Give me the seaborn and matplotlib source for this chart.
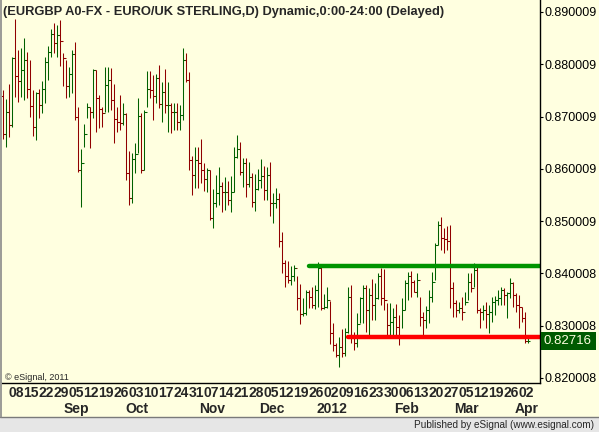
import matplotlib
matplotlib.use("Agg")
import matplotlib.pyplot as plt
from matplotlib.patches import Rectangle
from matplotlib.lines import Line2D
import numpy as np
import pandas as pd
import seaborn as sns

# Chart data (EURGBP daily bars)
title = "(EURGBP A0-FX - EURO/UK STERLING,D) Dynamic,0:00-24:00 (Delayed)"
first_day = "2011-08-02"
first_open = 0.8740

highs = [
    .8751, .8733, .8762, .8814, .8887, .8827, .8831, .8850, .8823, .8808,
    .8751, .8747, .8752, .8768, .8814, .8835, .8868, .8879, .8875, .8885,
    .8821, .8808, .8794, .8827, .8843, .8719, .8638, .8686, .8726, .8719,
    .8791, .8789, .8741, .8719, .8794, .8794, .8793, .8762, .8719, .8741,
    .8726, .8707, .8634, .8630, .8650, .8735, .8707, .8713, .8787, .8787,
    .8779, .8781, .8798, .8766, .8791, .8766, .8726, .8726, .8726, .8722,
    .8831, .8821, .8785, .8625, .8642, .8642, .8657, .8611, .8602, .8598,
    .8561, .8588, .8603, .8575, .8584, .8577, .8586, .8642, .8665, .8652,
    .8621, .8621, .8613, .8592, .8590, .8600, .8619, .8605, .8603, .8613,
    .8554, .8563, .8554, .8479, .8426, .8424, .8414, .8416, .8395, .8380,
    .8353, .8368, .8368, .8374, .8378, .8422, .8412, .8360, .8374, .8347,
    .8305, .8267, .8279, .8294, .8296, .8374, .8378, .8288, .8324, .8355,
    .8378, .8378, .8372, .8389, .8382, .8401, .8410, .8408, .8343, .8343,
    .8334, .8341, .8320, .8353, .8387, .8403, .8405, .8387, .8401, .8355,
    .8326, .8337, .8368, .8403, .8458, .8500, .8508, .8486, .8490, .8492,
    .8384, .8349, .8345, .8355, .8364, .8401, .8401, .8420, .8416, .8334,
    .8339, .8345, .8339, .8355, .8357, .8368, .8374, .8372, .8364, .8392,
    .8384, .8363, .8359, .8336, .8326, .8278,
]
lows = [
    .8657, .8642, .8661, .8680, .8737, .8728, .8737, .8732, .8735, .8699,
    .8663, .8656, .8698, .8707, .8726, .8770, .8814, .8821, .8814, .8796,
    .8758, .8735, .8737, .8745, .8694, .8594, .8527, .8642, .8698, .8640,
    .8698, .8671, .8678, .8680, .8709, .8709, .8713, .8650, .8671, .8675,
    .8684, .8579, .8530, .8534, .8592, .8630, .8592, .8598, .8719, .8735,
    .8694, .8726, .8717, .8690, .8707, .8671, .8669, .8675, .8675, .8675,
    .8694, .8766, .8598, .8550, .8563, .8563, .8573, .8558, .8556, .8502,
    .8486, .8527, .8530, .8517, .8521, .8530, .8517, .8556, .8621, .8588,
    .8565, .8546, .8565, .8527, .8519, .8560, .8563, .8540, .8540, .8509,
    .8496, .8525, .8450, .8401, .8374, .8382, .8378, .8386, .8330, .8303,
    .8318, .8320, .8334, .8334, .8332, .8336, .8330, .8332, .8334, .8265,
    .8252, .8241, .8221, .8241, .8243, .8286, .8267, .8254, .8260, .8305,
    .8305, .8288, .8279, .8311, .8311, .8351, .8339, .8330, .8282, .8282,
    .8276, .8278, .8263, .8296, .8330, .8349, .8355, .8364, .8355, .8299,
    .8278, .8296, .8305, .8345, .8387, .8455, .8445, .8439, .8445, .8334,
    .8316, .8316, .8324, .8311, .8339, .8349, .8364, .8374, .8324, .8296,
    .8311, .8296, .8286, .8307, .8320, .8339, .8339, .8339, .8314, .8353,
    .8336, .8326, .8296, .8307, .8267, .8267,
]
closes = [
    .8667, .8709, .8684, .8812, .8777, .8768, .8789, .8808, .8752, .8721,
    .8680, .8745, .8722, .8752, .8804, .8823, .8858, .8841, .8856, .8845,
    .8812, .8758, .8781, .8819, .8699, .8598, .8611, .8667, .8719, .8709,
    .8789, .8735, .8715, .8707, .8760, .8770, .8732, .8696, .8690, .8688,
    .8705, .8592, .8544, .8619, .8628, .8701, .8598, .8709, .8752, .8751,
    .8739, .8773, .8724, .8747, .8722, .8722, .8709, .8709, .8690, .8703,
    .8808, .8770, .8617, .8588, .8617, .8611, .8598, .8581, .8598, .8507,
    .8534, .8554, .8567, .8556, .8556, .8540, .8556, .8623, .8638, .8594,
    .8611, .8571, .8584, .8536, .8561, .8579, .8586, .8560, .8588, .8534,
    .8534, .8542, .8462, .8420, .8395, .8388, .8395, .8411, .8353, .8322,
    .8324, .8364, .8355, .8339, .8368, .8411, .8334, .8336, .8349, .8286,
    .8264, .8244, .8260, .8248, .8288, .8355, .8279, .8267, .8303, .8353,
    .8372, .8330, .8359, .8339, .8353, .8395, .8353, .8349, .8301, .8307,
    .8316, .8297, .8278, .8330, .8381, .8395, .8384, .8364, .8387, .8316,
    .8311, .8330, .8355, .8384, .8455, .8492, .8467, .8465, .8463, .8372,
    .8343, .8330, .8334, .8326, .8345, .8384, .8372, .8407, .8330, .8326,
    .8330, .8322, .8326, .8345, .8349, .8353, .8368, .8359, .8362, .8382,
    .8359, .8339, .8336, .8315, .8270, .82716,
]

week_labels = ["08", "15", "22", "29", "05", "12", "19", "26", "03", "10", "17",
               "24", "31", "07", "14", "21", "28", "05", "12", "19", "26", "02",
               "09", "16", "23", "30", "06", "13", "20", "27", "05", "12", "19",
               "26", "02"]
month_labels = ["Sep", "Oct", "Nov", "Dec", "2012", "Feb", "Mar", "Apr"]
month_dates = ["2011-09-05", "2011-10-03", "2011-11-07", "2011-12-05",
               "2012-01-02", "2012-02-06", "2012-03-05", "2012-04-02"]
price_ticks = [0.820008, 0.830008, 0.840008, 0.850009,
               0.860009, 0.870009, 0.880009, 0.890009]

resistance = 0.8414
resistance_from = "2011-12-22"
support = 0.8279
support_from = "2012-01-10"
last_price = "0.82716"

# build the frame
dates = pd.bdate_range(first_day, periods=len(closes))
df = pd.DataFrame({"date": dates, "high": highs, "low": lows, "close": closes})
df["open"] = [first_open] + closes[:-1]
df["x"] = np.arange(len(df))
df["color"] = np.where(df["close"] >= df["open"], "#006000", "#900000")

def pos(d):
    return int(np.searchsorted(dates, pd.Timestamp(d)))

sns.set_style("white")
plt.rcParams["font.family"] = ["Liberation Sans", "DejaVu Sans"]

W, H = 599, 432
bg = "#FFFFE0"
fig = plt.figure(figsize=(W / 100, H / 100), dpi=100)
fig.patch.set_facecolor(bg)
ax = fig.add_axes([2 / W, (H - 383) / H, 538 / W, 383 / H])
ax.set_facecolor(bg)
ax.set_xlim(-0.33, 179)
ax.set_ylim(0.81905, 0.8923)

# OHLC bars
lw = 0.75
ax.vlines(df["x"], df["low"], df["high"], colors=df["color"], linewidth=lw)
ax.hlines(df["open"], df["x"] - 0.65, df["x"], colors=df["color"], linewidth=lw)
ax.hlines(df["close"], df["x"], df["x"] + 0.65, colors=df["color"], linewidth=lw)

# support / resistance lines
xr = pos(resistance_from)
xs = pos(support_from)
sns.lineplot(x=[xr, 179], y=[resistance, resistance], color="#009400",
             linewidth=3.2, ax=ax, legend=False)
sns.lineplot(x=[xs, 179], y=[support, support], color="#FF0000",
             linewidth=3.2, ax=ax, legend=False)

# axes styling
for s in ["left", "top"]:
    ax.spines[s].set_visible(False)
for s in ["right", "bottom"]:
    ax.spines[s].set_color("black")
    ax.spines[s].set_linewidth(1.0)
ax.yaxis.tick_right()
ax.set_yticks(price_ticks)
ax.set_yticklabels([f"{v:.6f}" for v in price_ticks])
ax.tick_params(axis="y", length=2, pad=1.5, labelsize=9, colors="black")
ax.set_xticks([pos(d) for d in month_dates])
ax.set_xticklabels([])
ax.tick_params(axis="x", length=3, direction="out")
ax.set_xlabel("")
ax.set_ylabel("")

# date labels under the axis
xt = ax.get_xaxis_transform()
mondays = df.loc[df["date"].dt.dayofweek == 0, "x"].tolist()
for xm, lab in zip(mondays, week_labels):
    ax.text(xm + 0.4, -10 / 383, lab, transform=xt, ha="center", va="center",
            fontsize=10, fontweight="bold", clip_on=False)
for d, lab in zip(month_dates, month_labels):
    ax.text(pos(d) + 0.6, -26 / 383, lab, transform=xt, ha="center",
            va="center", fontsize=10, fontweight="bold", clip_on=False)

# last price box
py = 378 - (float(last_price) - 0.820008) * 5229
fig.add_artist(Rectangle((541 / W, 1 - (py + 9) / H), 55 / W, 18 / H,
                         transform=fig.transFigure, facecolor="#005a00",
                         edgecolor="none"))
fig.text(568 / W, 1 - py / H, last_price, ha="center", va="center",
         fontsize=9.5, color="#FFFFE0")

# frame, title and credits
fig.add_artist(Rectangle((0, 0), 1, 15 / H, transform=fig.transFigure,
                         facecolor="#E6E6E6", edgecolor="none"))
fig.add_artist(Line2D([0, 1], [1 - 417 / H, 1 - 417 / H], transform=fig.transFigure,
                      color="#7a7a7a", linewidth=1.0))
fig.add_artist(Line2D([0.8 / W, 0.8 / W], [1 - 417 / H, 1], transform=fig.transFigure,
                      color="#8a8a8a", linewidth=1.2))
fig.text(3 / W, 1 - 12 / H, title, ha="left", va="center", fontsize=9.3,
         fontweight="bold")
fig.text(5 / W, 1 - 377 / H, "\u00a9 eSignal, 2011", ha="left", va="center",
         fontsize=6.5)
fig.text(594 / W, 1 - 425 / H, "Published by eSignal (www.esignal.com)",
         ha="right", va="center", fontsize=7.2)

fig.savefig("out.png", dpi=100, facecolor=fig.get_facecolor())
